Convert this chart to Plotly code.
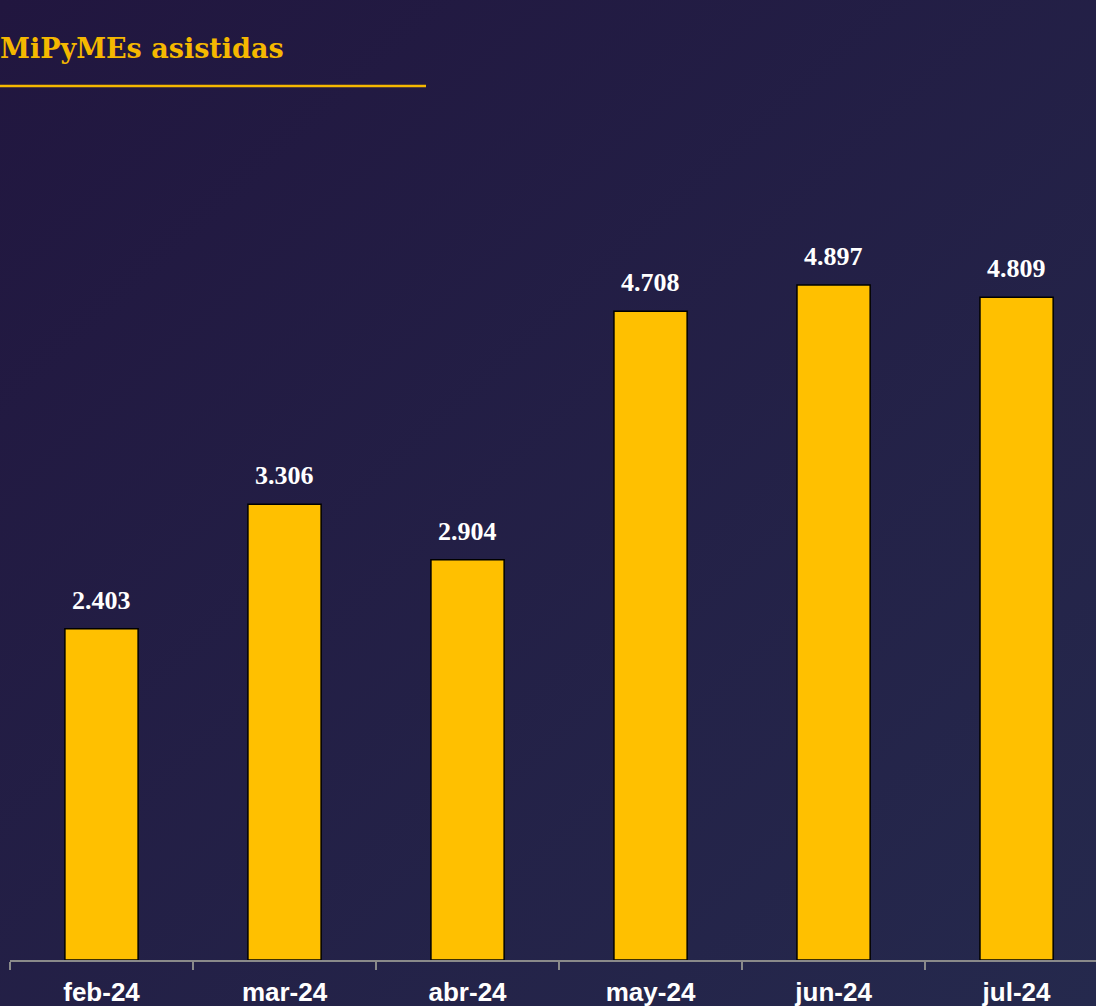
import plotly.graph_objects as go
import urllib.parse

months = ["feb-24", "mar-24", "abr-24", "may-24", "jun-24", "jul-24"]
mipymes = [2403, 3306, 2904, 4708, 4897, 4809]
labels = [f"{v:,}".replace(",", ".") for v in mipymes]

W, H = 1096, 1006
T, B, L = 100, 46, 10
PW, PH = W - L, H - T - B

svg = (
    "<svg xmlns='http://www.w3.org/2000/svg' width='1096' height='1006'>"
    "<defs><linearGradient id='g' x1='0' y1='0' x2='1' y2='1'>"
    "<stop offset='0' stop-color='#21163f'/><stop offset='1' stop-color='#25294d'/>"
    "</linearGradient></defs><rect width='1096' height='1006' fill='url(#g)'/></svg>"
)
bg_uri = "data:image/svg+xml;charset=utf-8," + urllib.parse.quote(svg)

fig = go.Figure()
fig.add_trace(go.Bar(
    x=months, y=mipymes,
    marker=dict(color="#FFC000", line=dict(color="black", width=1.5)),
    width=0.4, hoverinfo="x+y",
))

label_annots = [
    dict(x=m, y=v, text=t, xref="x", yref="y", showarrow=False,
         xanchor="center", yanchor="bottom", yshift=12,
         font=dict(family="Liberation Serif", size=26, color="white", weight="bold"))
    for m, v, t in zip(months, mipymes, labels)
]

fig.update_layout(
    width=W, height=H,
    margin=dict(l=L, r=0, t=T, b=B),
    paper_bgcolor="#22203f", plot_bgcolor="rgba(0,0,0,0)",
    showlegend=False,
    images=[dict(source=bg_uri, xref="paper", yref="paper", x=-L/PW, y=1+T/PH,
                 sizex=W/PW, sizey=H/PH, sizing="stretch", layer="below",
                 xanchor="left", yanchor="top")],
    xaxis=dict(
        range=[-0.5, 5.434], type="category",
        showline=True, linecolor="#8a8a8a", linewidth=2,
        ticks="outside", tickson="boundaries", ticklen=8, tickwidth=1.5, tickcolor="#8a8a8a",
        ticklabelstandoff=8,
        tickfont=dict(family="Liberation Sans", size=26, color="white", weight="bold"),
        showgrid=False, zeroline=False,
    ),
    yaxis=dict(range=[0, 6240], visible=False, showgrid=False, zeroline=False),
    annotations=label_annots + [dict(
        text="MiPyMEs asistidas", xref="paper", yref="paper",
        x=-(L+2)/PW, y=1+(T-48)/PH, xanchor="left", yanchor="middle", showarrow=False,
        font=dict(family="DejaVu Serif", size=27, color="#F5B800", weight="bold"),
    )],
    shapes=[dict(type="line", xref="paper", yref="paper",
                 x0=-L/PW, x1=(426-L)/PW, y0=1+(T-86)/PH, y1=1+(T-86)/PH,
                 line=dict(color="#F5B800", width=2.5))],
)

fig.write_html("out.html", config={"displayModeBar": False},
               post_script="document.body.style.margin='0';document.body.style.background='#22203f';")
